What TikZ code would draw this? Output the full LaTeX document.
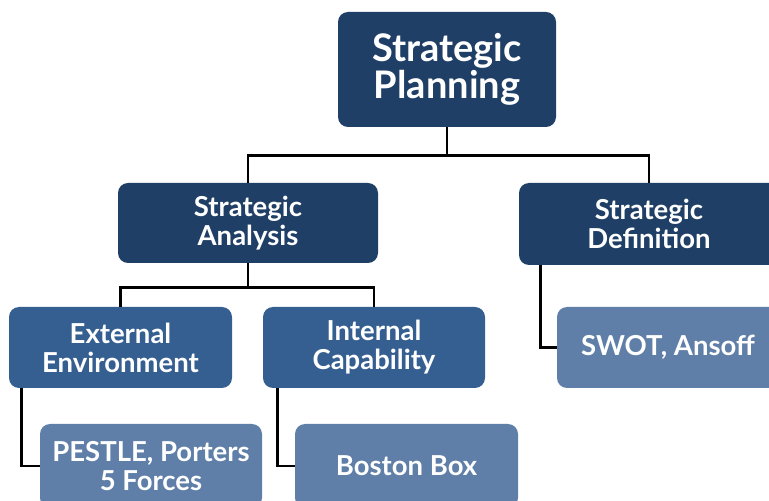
\documentclass[tikz,border=0pt]{standalone}
\usepackage{fontspec}
\setmainfont{Lato}
\usetikzlibrary{calc}
\definecolor{navy}{HTML}{1F3F66}
\definecolor{midblue}{HTML}{365F91}
\definecolor{leafblue}{HTML}{5F7FA8}
\begin{document}
\begin{tikzpicture}[x=1pt,y=1pt,
  box/.style={rounded corners=10pt, text=white, align=center, inner sep=0pt,
    font=\bfseries\fontsize{27.5}{29}\selectfont},
  topbox/.style={box, fill=navy, font=\bfseries\fontsize{38}{37}\selectfont},
  lvltwo/.style={box, fill=navy},
  lvlthree/.style={box, fill=midblue},
  leaf/.style={box, fill=leafblue},
  conn/.style={draw=black, line width=2.8pt}]
\useasboundingbox (0,0) rectangle (769,501);
\clip (0,0) rectangle (769,501);
\node[topbox, minimum width=218, minimum height=115] (top) at (447,431.5) {Strategic\\Planning};
\node[lvltwo, minimum width=260, minimum height=80] (sa) at (248,278) {Strategic\\Analysis};
\node[lvltwo, minimum width=260, minimum height=82] (sd) at (649,277) {Strategic\\Definition};
\node[lvlthree, minimum width=223, minimum height=81] (ee) at (120.5,153.5) {External\\Environment};
\node[lvlthree, minimum width=222, minimum height=81] (ic) at (374,153.5) {Internal\\Capability};
\node[leaf, minimum width=222, minimum height=84] (pe) at (151,35) {PESTLE, Porters\\5 Forces};
\node[leaf, minimum width=223, minimum height=84] (bb) at (406.5,35) {Boston Box};
\node[leaf, minimum width=222, minimum height=81] (sw) at (668,153.5) {SWOT, Ansoff};
\draw[conn] (top.south) -- +(0,-28) -| (sa.north);
\draw[conn] (top.south) -- +(0,-28) -| (sd.north);
\draw[conn] (sa.south) -- +(0,-24) -| (ee.north);
\draw[conn] (sa.south) -- +(0,-24) -| (ic.north);
\draw[conn] ([xshift=13pt]ee.south west) |- (pe.west);
\draw[conn] ([xshift=15pt]ic.south west) |- (bb.west);
\draw[conn] ([xshift=22pt]sd.south west) |- (sw.west);
\end{tikzpicture}
\end{document}
